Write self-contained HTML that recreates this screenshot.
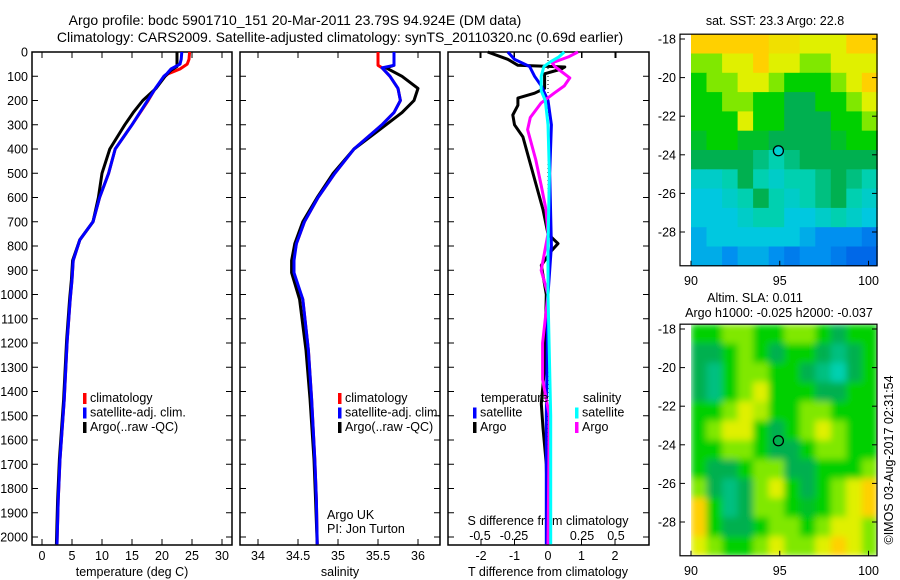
<!DOCTYPE html>
<html><head><meta charset="utf-8"><style>
body{margin:0;background:#fff}
svg{display:block;font-family:"Liberation Sans",sans-serif;font-size:12.5px}
</style></head><body>
<svg id="c" width="900" height="580" viewBox="0 0 900 580">
<defs>
<filter id="blur" x="0" y="0" width="1" height="1"><feGaussianBlur stdDeviation="3.5" edgeMode="duplicate"/></filter>
<clipPath id="clipSla"><rect x="690" y="324" width="187" height="231"/></clipPath>
</defs>
<rect width="900" height="580" fill="#fff"/>
<text x="295" y="25" text-anchor="middle" font-size="14">Argo profile: bodc 5901710_151 20-Mar-2011 23.79S 94.924E (DM data)</text>
<text x="340" y="42" text-anchor="middle" font-size="14">Climatology: CARS2009. Satellite-adjusted climatology: synTS_20110320.nc (0.69d earlier)</text>
<g id="g"></g>
</svg>
<script>
// ---- profile data ----
const tDepthRed=[0,30,50,70,90,100,150,200,300,400,500,600,700,775,860,940,1020,1190,1435,1680,1850,2030];
const tRed=[24.6,24.5,24.2,23,21,20.5,18.9,17.7,15,12.2,11.1,9.6,8.5,6.3,5.2,5.0,4.7,4.2,3.7,3.0,2.7,2.5];
const tBlue=[23.3,23.2,23,21.5,20.8,20.3,18.9,17.6,15,12.2,11.1,9.6,8.5,6.3,5.2,5.0,4.7,4.2,3.7,3.0,2.7,2.5];
const tDepthArgo=[0,60,75,100,150,200,250,300,400,500,600,700,775,860,940,1020,1190,1435,1680,1850,2030];
const tArgo=[22.5,22.5,21.5,20.5,19,16.8,15.2,13.8,11.3,10,9.4,8.5,6.3,5.1,4.9,4.6,4.1,3.6,2.9,2.6,2.4];
const sDepth=[0,55,65,100,150,200,250,300,400,500,600,700,790,860,910,1020,1230,1430,1680,1850,2030];
const sRed=[35.5,35.5,35.55,35.65,35.75,35.78,35.7,35.55,35.2,34.96,34.75,34.58,34.48,34.44,34.44,34.56,34.63,34.67,34.71,34.73,34.74];
const sBlue=[35.7,35.7,35.55,35.65,35.75,35.78,35.7,35.55,35.2,34.96,34.75,34.58,34.48,34.45,34.45,34.56,34.63,34.67,34.71,34.73,34.74];
const sArgo=[35.7,35.7,35.6,35.8,36.0,35.95,35.8,35.6,35.2,34.94,34.74,34.56,34.46,34.42,34.42,34.52,34.6,34.65,34.7,34.72,34.74];
const dTDepthArgo=[0,30,55,62,70,90,150,170,190,220,260,300,350,450,550,650,750,790,820,880,1000,1300,1450,1550,1700,2030];
const dTArgo=[-1.8,-1.2,-0.9,0.5,0.4,-0.1,-0.1,-0.4,-0.9,-0.9,-1.05,-1.0,-0.75,-0.55,-0.35,-0.15,0.0,0.3,0.1,-0.2,-0.05,-0.1,-0.2,-0.15,-0.05,0];
const dTDepthSat=[0,30,60,100,140,200,300,500,800,1000,1500,2030];
const dTSat=[-1.2,-1.0,-0.55,-0.4,-0.2,0.0,0.1,0.05,0.1,0.0,-0.05,-0.05];
const dSDepthArgo=[0,20,45,60,107,140,170,210,270,320,445,550,650,750,900,1000,1200,1350,1500,2030];
const dSArgo=[0.22,0.15,0.03,0.05,0.16,0.12,0.045,-0.05,-0.13,-0.15,-0.09,-0.05,-0.015,0.0,-0.05,0.0,-0.04,-0.04,0.01,0.0];
const dSDepthSat=[0,20,40,60,100,160,200,300,500,800,1000,1500,2030];
const dSSat=[0.12,0.08,0.02,-0.03,-0.05,-0.05,-0.02,0.0,0.01,0.0,0.0,0.02,0.02];
const depthTicks=[0,100,200,300,400,500,600,700,800,900,1000,1100,1200,1300,1400,1500,1600,1700,1800,1900,2000];
const tTicks=[0,5,10,15,20,25,30];
const sTicks=[34,34.5,35,35.5,36];
const dTTicks=[-2,-1,0,1,2];
const dSTicks=[-0.5,-0.25,0,0.25,0.5];
const dSTickLabels=["-0.5","-0.25","0","0.25","0.5"];
const latTicks=[-18,-20,-22,-24,-26,-28];
const lonTicks=[90,95,100];
const argoLon=94.924, argoLat=-23.79;
// ---- map grids (rows: lat -17.75 .. -29.75, cols: lon 90 .. 100.5) ----
const sstGrid=[
[9,9,9,9,9,8.5,8.5,8,8,8,9,9],
[7,7,8,8,9,8,8,7,7,8,8,8],
[6,7,7,8,8,7,6,6,6,7,8,9],
[6,6,7,7,6,6,5,5,6,6,7,8],
[6,6,6,8,6,6,5,5,5,6,6,7],
[5.5,6,6,5.5,5.5,5,5,5,5,5.5,6,6],
[5,5,5,5,4.5,4,4.5,5,5,5,5,5],
[3.5,3.5,4,5,4,3.5,4,4,4.5,5,4.5,4],
[3,3,3.5,4,5,4,3.5,4,4.5,5,4,3.5],
[3,3,3,3.5,4,4,3,3,3.5,4,3.5,3],
[2.5,3,3,3,3,3,3,2.5,2,2,2,1.5],
[2.5,2.5,2,2.5,2.5,2,1.5,2,2,1.5,1,1]];
const slaGrid=[
[6,6,7,7,6,6,7,7,6,5,6,6],
[5,5,6,7,6,5,6,6,5,4.5,5,6],
[5,4.5,6,7,7,6,6,5,4.5,4,5,6],
[5,4.5,6,7,8,6,6,6,5,5,6,6],
[6,6,7,8,7.5,6,6,7,7,6,6,6],
[6,7,8,8,6,5,6,7,8,7,6,6],
[6,6,7,7,6,5,5,6,7,7,6,6],
[6,5,5,6,7,7,5,5,6,6,6,7],
[7,5,4.5,5,7,8,6,5,6,7,8,9],
[9,6,4.5,5,7,7,6,5.5,6,7,8,9],
[9,6,5,5,6,7,7,6,7,8,8,7],
[8,7,6,6,7,8,7,7,8,9,8,7]];

const NS="http://www.w3.org/2000/svg";
const G=document.getElementById('g');
function el(t,a,p){const e=document.createElementNS(NS,t);for(const k in a)e.setAttribute(k,a[k]);(p||G).appendChild(e);return e;}
function txt(x,y,s,anchor,name){const e=el('text',{x:x,y:y,'text-anchor':anchor||'middle'});e.textContent=s;


return e;}
const Y=d=>52+d*0.2425;
const TOP=52,BOT=545;
const xT=v=>42+v*6;
const xS=v=>258+(v-34)*80;
const xDT=v=>548+v*33.5;
const xDS=v=>548+v*136;
const panels=[[32,232,'temperature-panel'],[240,440,'salinity-panel'],[448,649,'difference-panel']];
panels.forEach(p=>{
 const r=el('rect',{x:p[0],y:TOP,width:p[1]-p[0],height:BOT-TOP,fill:'none',stroke:'#000','stroke-width':1.5});
 
 
 depthTicks.forEach(d=>{el('line',{x1:p[0],x2:p[0]+6,y1:Y(d),y2:Y(d),stroke:'#000'});el('line',{x1:p[1]-6,x2:p[1],y1:Y(d),y2:Y(d),stroke:'#000'});});
});
depthTicks.forEach(d=>txt(28,Y(d)+4.5,String(d),'end','depth-tick-label'));
function xticks(ticks,f,labels,name){ticks.forEach((v,i)=>{const x=f(v);
 el('line',{x1:x,x2:x,y1:BOT-6,y2:BOT,stroke:'#000'});el('line',{x1:x,x2:x,y1:TOP,y2:TOP+6,stroke:'#000'});
 if(labels)txt(x,560,labels[i],'middle',name);});}
xticks(tTicks,xT,tTicks.map(String),'temperature-tick-label');
xticks(sTicks,xS,sTicks.map(String),'salinity-tick-label');
xticks(dTTicks,xDT,dTTicks.map(String),'t-diff-tick-label');
dSTicks.forEach((v,i)=>{const x=xDS(v);el('line',{x1:x,x2:x,y1:TOP,y2:TOP+6,stroke:'#000'});txt(x,540,dSTickLabels[i],'middle','s-diff-tick-label');});
txt(132,576,'temperature (deg C)','middle','temperature-axis-title');
txt(340,576,'salinity','middle','salinity-axis-title');
txt(548,576,'T difference from climatology','middle','t-diff-axis-title');
txt(548,525,'S difference from climatology','middle','s-diff-axis-title');
const z=el('line',{x1:xDT(0),x2:xDT(0),y1:TOP,y2:BOT,stroke:'#000','stroke-dasharray':'1,3'});


function line(depths,vals,f,color,name){const pts=depths.map((d,i)=>f(vals[i]).toFixed(1)+','+Y(d).toFixed(1)).join(' ');
 const e=el('polyline',{points:pts,fill:'none',stroke:color,'stroke-width':3,'stroke-linejoin':'round'});
 
 }
line(tDepthRed,tRed,xT,'#f00','temperature-climatology-line');
line(tDepthArgo,tArgo,xT,'#000','temperature-argo-line');
line(tDepthRed,tBlue,xT,'#00f','temperature-satellite-line');
line(sDepth,sRed,xS,'#f00','salinity-climatology-line');
line(sDepth,sArgo,xS,'#000','salinity-argo-line');
line(sDepth,sBlue,xS,'#00f','salinity-satellite-line');
line(dTDepthArgo,dTArgo,xDT,'#000','t-diff-argo-line');
line(dTDepthSat,dTSat,xDT,'#00f','t-diff-satellite-line');
line(dSDepthArgo,dSArgo,xDS,'#f0f','s-diff-argo-line');
line(dSDepthSat,dSSat,xDS,'#0ff','s-diff-satellite-line');
function legend(x,y,items){items.forEach((it,i)=>{const yy=y+i*14.5;
 const b=el('rect',{x:x,y:yy-9,width:3.5,height:11,fill:it[0]});
 
 
 txt(x+7,yy,it[1],'start','legend-entry');});}
legend(83,402,[['#f00','climatology'],['#00f','satellite-adj. clim.'],['#000','Argo(..raw -QC)']]);
legend(338,402,[['#f00','climatology'],['#00f','satellite-adj. clim.'],['#000','Argo(..raw -QC)']]);
txt(481,402,'temperature','start','legend-title-temperature');
txt(583,402,'salinity','start','legend-title-salinity');
legend(473,416.5,[['#00f','satellite'],['#000','Argo']]);
legend(575,416.5,[['#0ff','satellite'],['#f0f','Argo']]);
txt(327,519,'Argo UK','start','argo-uk-label');
txt(327,533,'PI: Jon Turton','start','pi-label');
// ---- maps ----
const cmapStops=[[0,[0,64,224]],[2,[0,144,240]],[3,[0,200,224]],[4,[0,208,176]],[5,[0,176,80]],[6,[0,208,0]],[7,[128,232,0]],[8,[224,240,0]],[9,[255,208,0]],[10,[255,160,0]]];
function cmap(v){for(let i=0;i<cmapStops.length-1;i++){const a=cmapStops[i],b=cmapStops[i+1];if(v<=b[0]){const t=(v-a[0])/(b[0]-a[0]);return 'rgb('+a[1].map((c,j)=>Math.round(c+(b[1][j]-c)*t)).join(',')+')';}}return 'rgb(255,160,0)';}
const lonX=l=>691+(l-90)*17.75;
function map(oy,grid,name,title,circleFill,smooth){
 const latY=lat=>oy+39+(-18-lat)*19.3;
 let holder=G;
 if(smooth){const w=el('g',{'clip-path':'url(#clipSla)'});holder=el('g',{filter:'url(#blur)'},w);}
 grid.forEach((row,r)=>row.forEach((v,c)=>{
  const x0=lonX(90+c*0.875),x1=lonX(90+(c+1)*0.875),y0=latY(-17.75-r),y1=latY(-18.75-r);
  const e=el('rect',{x:x0.toFixed(1),y:y0.toFixed(1),width:(x1-x0+0.5).toFixed(1),height:(y1-y0+0.5).toFixed(1),fill:cmap(v)},holder);
  
  }));
 const f=el('rect',{x:680,y:latY(-17.75),width:877-680,height:latY(-29.75)-latY(-17.75),fill:'none',stroke:'#000','stroke-width':1.2});
 
 
 latTicks.forEach(l=>{const y=latY(l);el('line',{x1:680,x2:685,y1:y,y2:y,stroke:'#000'});el('line',{x1:872,x2:877,y1:y,y2:y,stroke:'#000'});txt(676,y+4.5,String(l),'end',name+'-lat-label');});
 lonTicks.forEach(l=>{const x=lonX(l);el('line',{x1:x,x2:x,y1:latY(-29.75)-5,y2:latY(-29.75),stroke:'#000'});txt(x,latY(-29.75)+19,String(l),'middle',name+'-lon-label');});
 const c=el('circle',{cx:lonX(argoLon),cy:latY(argoLat),r:5,fill:circleFill,stroke:'#000','stroke-width':1.3});
 
 
 title.forEach(t=>txt(t[1],oy+t[2],t[0],'middle',name+'-title'));
}
map(0,sstGrid,'sst-map',[['sat. SST: 23.3 Argo: 22.8',775,25]],'#00d0d0',false);
map(290,slaGrid,'sla-map',[['Altim. SLA: 0.011',755,12],['Argo h1000: -0.025 h2000: -0.037',779,27]],'none',true);
const r=el('text',{x:0,y:0,transform:'translate(893,460) rotate(-90)','text-anchor':'middle'});
r.textContent='©IMOS 03-Aug-2017 02:31:54';


</script>
</body></html>
